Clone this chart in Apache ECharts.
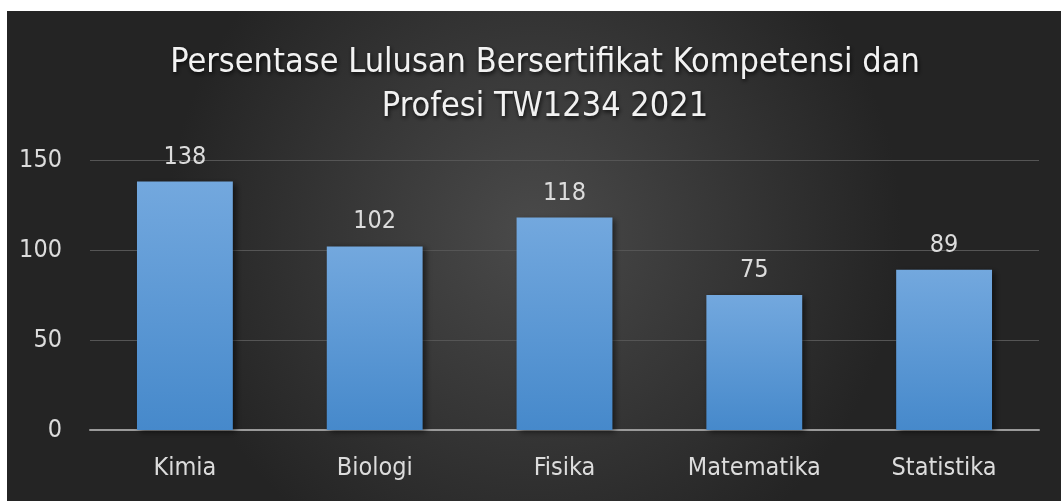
<!DOCTYPE html>
<html><head><meta charset="utf-8">
<script src="https://cdn.jsdelivr.net/npm/echarts@6/dist/echarts.min.js"></script>
<style>html,body{margin:0;padding:0;background:#fff;}#c{width:1061px;height:501px;}</style>
</head><body><div id="c"></div>
<script>
const categories = ['Kimia', 'Biologi', 'Fisika', 'Matematika', 'Statistika'];
const values = [138, 102, 118, 75, 89];
const yTicks = [0, 50, 100, 150];
const titleText = 'Persentase Lulusan Bersertifikat Kompetensi dan\nProfesi TW1234 2021';

const chart = echarts.init(document.getElementById('c'));
const font = '"Liberation Sans Narrow", "DejaVu Sans Condensed", sans-serif';
chart.setOption({
  backgroundColor: '#ffffff',
  graphic: [{
    type: 'rect', z: -10, silent: true,
    shape: { x: 7, y: 11, width: 1054, height: 490 },
    style: { fill: new echarts.graphic.RadialGradient(0.5, 0.45, 0.75, [
      { offset: 0, color: '#4a4a4a' },
      { offset: 1, color: '#242424' }
    ]) }
  }],
  title: {
    text: titleText, left: 540, top: 36, textAlign: 'center',
    textStyle: { color: '#f2f2f2', fontFamily: font, fontSize: 34, fontWeight: 'normal', lineHeight: 44,
      textShadowColor: 'rgba(0,0,0,0.8)', textShadowBlur: 4, textShadowOffsetX: 1, textShadowOffsetY: 2 }
  },
  grid: { left: 90, right: 22, top: 160, bottom: 71, containLabel: false },
  xAxis: {
    type: 'category', data: categories,
    axisLine: { lineStyle: { color: '#9a9a9a', width: 2 } },
    axisTick: { show: false },
    axisLabel: { color: '#dcdcdc', fontFamily: font, fontSize: 25, margin: 26 }
  },
  yAxis: {
    type: 'value', min: 0, max: 150, interval: 50,
    axisLine: { show: false }, axisTick: { show: false },
    splitLine: { lineStyle: { color: '#555555', width: 1 } },
    axisLabel: { color: '#dcdcdc', fontFamily: font, fontSize: 25, margin: 28,
      formatter: v => yTicks.includes(v) ? String(v) : '' }
  },
  series: [{
    type: 'bar', data: values, barWidth: '50.5%',
    itemStyle: {
      color: new echarts.graphic.LinearGradient(0, 0, 0, 1, [
        { offset: 0, color: '#73a8de' },
        { offset: 1, color: '#4689cb' }
      ]),
      shadowColor: 'rgba(0,0,0,0.55)', shadowBlur: 6, shadowOffsetX: 3, shadowOffsetY: 2
    },
    label: { show: true, position: 'top', distance: 12, color: '#dcdcdc', fontFamily: font, fontSize: 25 }
  }]
});
</script></body></html>
